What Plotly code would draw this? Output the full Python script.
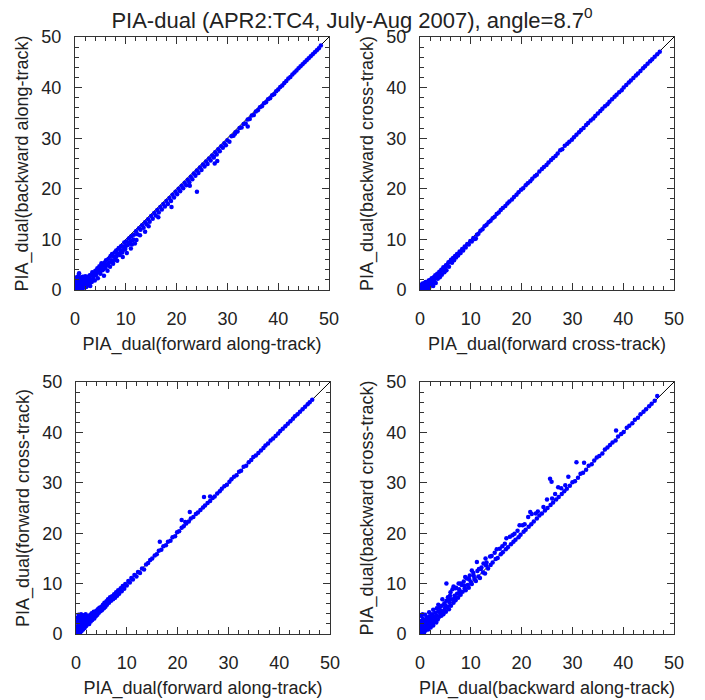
import plotly.graph_objects as go

# ---------------- data ----------------
tick_vals = [0, 10, 20, 30, 40, 50]
tick_text = ["0", "10", "20", "30", "40", "50"]

title_text = "PIA-dual (APR2:TC4, July-Aug 2007), angle=8.7<sup>0</sup>"

x_titles = ["PIA_dual(forward along-track)", "PIA_dual(forward cross-track)",
            "PIA_dual(forward along-track)", "PIA_dual(backward along-track)"]
y_titles = ["PIA_dual(backward along-track)", "PIA_dual(backward cross-track)",
            "PIA_dual(forward cross-track)", "PIA_dual(backward cross-track)"]

# panel A: forward along-track (x) vs backward along-track (y)
panel_a = [(0.1,0.2),(0.1,-0.3),(0.2,0.9),(0.2,1.6),(0.3,0.4),(0.3,2.5),(0.4,-0.2),(0.4,1.2),(0.5,0.6),(0.5,2.0),
 (0.6,0.0),(0.6,1.5),(0.7,0.9),(0.7,2.8),(0.8,0.3),(0.8,3.3),(0.9,1.8),(0.9,-0.1),(1.0,1.1),(1.0,2.4),
 (1.1,0.5),(1.2,1.7),(1.2,0.1),(1.3,2.2),(1.4,0.8),(1.4,1.4),(1.5,2.6),(1.6,0.4),(1.6,1.9),(1.7,1.1),
 (1.8,2.3),(1.9,0.7),(1.9,1.6),(2.0,2.7),(2.1,1.2),(2.2,0.6),(2.2,2.0),(2.3,1.5),(2.4,2.6),(2.5,0.9),
 (2.6,1.9),(2.7,2.5),(2.8,1.3),(2.9,2.9),(3.0,2.1),(3.0,0.8),
 (3.2,2.9),(3.3,1.6),(3.4,3.5),(3.6,2.4),(3.7,3.2),(3.9,1.9),(4.0,3.8),(4.1,2.9),(4.3,3.4),(4.4,4.3),
 (4.5,2.3),(4.7,3.9),(4.8,4.7),(5.0,3.2),(5.1,4.5),(5.2,5.3),(5.4,3.9),(5.5,4.9),(5.7,2.8),(5.8,5.4),
 (6.0,4.4),(6.1,5.9),(6.3,5.1),(6.4,3.8),(6.6,6.2),(6.7,5.4),(6.9,4.6),(7.0,6.7),(7.2,5.9),(7.3,7.1),
 (7.5,5.2),(7.6,6.6),(7.8,7.4),(8.0,6.3),(8.1,7.8),(8.3,5.8),(8.4,7.2),(8.6,8.3),(8.8,6.9),(8.9,7.9),
 (9.1,8.7),(9.3,7.4),(9.4,6.5),(9.6,8.6),(9.7,9.4),(9.9,8.1),(10.1,9.6),(10.2,7.3),(10.4,8.9),(10.6,10.2),
 (10.8,9.3),(11.0,8.2),(11.1,10.6),(11.3,9.8),(11.6,10.9),(11.8,9.2),
 (2.5,1.6),(3.5,2.0),(4.6,3.5),(5.6,4.1),(6.5,5.0),(7.4,5.6),(8.2,6.7),(9.0,7.4),(10.0,8.7),(10.9,9.6),
 (11.5,10.0),(6.2,4.9),(7.9,6.0),(9.5,7.9),(3.8,3.0),(4.9,3.9),
 (12.0,11.6),(12.3,11.0),(12.6,12.2),(12.9,11.9),(13.2,12.8),(13.5,12.3),(13.8,13.4),(14.1,13.0),(14.4,14.0),(14.7,13.5),
 (15.0,14.6),(15.3,14.1),(15.6,15.2),(15.9,14.7),(16.2,15.8),(16.5,15.3),(16.8,16.4),(17.1,15.9),(17.4,17.0),(17.7,16.5),
 (18.0,17.6),(18.3,17.0),(18.6,18.2),(18.9,17.6),(19.2,18.8),(19.5,18.3),(19.8,19.4),(20.1,18.9),(20.4,20.0),(20.7,19.5),
 (21.0,20.6),(21.3,20.1),(21.6,21.2),(21.9,20.7),(22.2,21.8),(22.5,21.3),(22.8,22.4),(23.1,21.9),(23.4,23.0),(23.7,22.6),
 (24.0,23.6),(24.3,23.1),(24.6,24.2),(24.9,23.7),(25.2,24.8),(25.5,24.4),(25.8,25.4),(26.1,24.9),(26.4,26.0),(26.7,25.6),
 (27.0,26.6),(27.3,26.2),(27.6,27.2),(27.9,26.8),(28.2,27.8),(28.5,27.4),(28.8,28.4),(29.1,28.1),(29.4,29.0),(29.7,28.6),
 (30.0,29.6),(30.4,29.3),(30.8,30.4),(31.2,30.5),(31.6,31.2),(32.0,31.3),(32.4,32.0),(32.8,32.1),(33.2,32.8),(33.6,32.9),
 (34.0,33.7),(34.4,33.8),(34.8,34.5),(35.2,34.6),(35.6,35.3),(36.0,35.5),(36.4,36.1),(36.8,36.3),(37.2,36.9),(37.6,37.1),
 (38.0,37.7),(38.4,37.9),(38.8,38.5),(39.2,38.7),(39.6,39.3),(40.0,39.6),(40.4,40.1),(40.8,40.4),(41.2,40.9),(41.6,41.3),
 (42.0,41.8),(42.4,42.1),(42.8,42.6),(43.2,43.0),(43.6,43.4),(44.0,43.8),(44.4,44.2),(44.8,44.6),(45.2,45.0),(45.6,45.4),
 (46.0,45.8),(46.4,46.2),(46.8,46.6),(47.2,47.0),(47.6,47.4),(48.0,47.8),(48.4,48.3),
 (12.1,9.9),(13.8,11.5),(19.0,16.4),(24.0,19.4),(27.3,26.3),(28.0,25.5),(27.5,25.0),(22.6,20.6),(16.4,14.4),(34.0,32.3),
 (31.5,30.9),(12.8,10.8),(14.5,12.6),(11.2,9.0)]

# panel B: forward cross-track (x) vs backward cross-track (y)
panel_b = [(0.1,0.0),(0.1,0.5),(0.2,-0.3),(0.2,1.0),(0.3,0.3),(0.4,0.8),(0.4,-0.1),(0.5,1.3),(0.6,0.4),(0.7,1.0),
 (0.7,-0.2),(0.8,0.6),(0.9,1.4),(1.0,0.2),(1.0,0.9),(1.1,1.6),(1.2,0.5),(1.3,1.1),(1.4,0.0),(1.5,1.5),
 (1.6,0.8),(1.7,1.9),(1.8,0.4),(1.9,1.3),(2.0,2.0),(2.1,0.9),(2.2,1.6),(2.3,2.3),(2.4,1.2),(2.5,2.0),
 (2.6,0.8),(2.7,2.5),(2.8,1.7),(2.9,2.2),(3.0,2.9),(3.1,1.4),(3.2,2.6),(3.4,3.2),(3.5,2.2),(3.6,2.9),
 (3.8,3.6),(3.9,2.5),(4.0,3.4),(4.2,4.0),(4.3,3.0),(4.5,3.9),(4.6,4.5),(4.8,3.5),(4.9,4.4),(5.1,4.9),
 (5.2,3.9),(5.4,5.0),(5.6,5.5),(5.7,4.6),(5.9,5.6),(6.1,6.0),(6.3,5.4),(6.5,6.3),(6.7,5.9),(6.9,6.7),
 (7.1,6.4),(7.3,7.1),(7.5,6.8),(7.8,7.6),(8.0,7.3),(8.3,8.1),(8.5,7.8),(8.8,8.6),(9.0,8.4),(9.3,9.1),
 (9.6,9.0),(9.9,9.7),(10.2,9.6),(10.5,10.3),(10.8,10.1),(11.0,10.2),(11.2,10.9),(11.5,11.1),(11.9,11.7),(12.3,12.0),
 (12.7,12.6),(13.1,12.9),(13.5,13.4),(13.9,13.7),(14.3,14.2),(14.7,14.5),(15.1,15.0),(15.5,15.3),(15.9,15.8),(16.3,16.2),
 (16.8,16.6),(17.2,17.1),(17.6,17.5),(18.1,17.9),(18.5,18.4),(19.0,18.8),(19.4,19.3),(19.9,19.8),(20.3,20.1),(20.8,20.7),
 (21.2,21.1),(21.7,21.5),(22.1,22.0),(22.6,22.5),(23.0,22.8),(23.5,23.4),(24.0,23.9),(24.4,24.3),(24.9,24.7),(25.3,25.2),
 (25.8,25.7),(26.2,26.1),(26.7,26.5),(27.1,27.0),(27.6,27.6),(28.0,27.8),(28.5,28.5),(29.0,28.9),(29.4,29.3),(29.9,29.7),
 (30.3,30.2),(30.8,30.7),(31.3,31.2),(31.7,31.6),(32.2,32.0),(32.7,32.6),(33.1,33.0),(33.6,33.5),(34.1,33.9),(34.5,34.4),
 (35.0,34.9),(35.5,35.4),(35.9,35.8),(36.4,36.3),(36.9,36.7),(37.3,37.2),(37.8,37.7),(38.3,38.2),(38.7,38.6),(39.2,39.1),
 (39.7,39.5),(40.1,40.0),(40.6,40.5),(41.1,41.0),(41.5,41.4),(42.0,41.9),(42.5,42.4),(42.9,42.8),(43.4,43.3),(43.9,43.8),
 (44.3,44.2),(44.8,44.7),(45.3,45.2),(45.7,45.6),(46.2,46.1),(46.7,46.6),(47.2,47.1)]

# panel C: forward along-track (x) vs forward cross-track (y)
panel_c = [(0.1,0.2),(0.1,1.5),(0.2,-0.2),(0.2,2.4),(0.3,0.7),(0.3,3.2),(0.4,1.1),(0.4,-0.1),(0.5,1.9),(0.5,3.8),
 (0.6,0.5),(0.6,2.7),(0.7,1.4),(0.7,3.4),(0.8,0.2),(0.8,2.2),(0.9,1.0),(0.9,3.0),(1.0,1.7),(1.0,3.9),
 (1.1,0.6),(1.1,2.6),(1.2,1.3),(1.2,3.5),(1.3,2.0),(1.4,0.9),(1.4,2.9),(1.5,1.6),(1.5,3.7),(1.6,2.3),
 (1.7,1.2),(1.7,3.2),(1.8,2.0),(1.9,2.8),(1.9,3.9),(2.0,1.6),(2.1,2.5),(2.1,3.6),(2.2,1.9),(2.3,3.0),
 (2.4,2.3),(2.5,3.4),(2.6,2.0),(2.7,2.9),(2.8,3.8),(2.9,2.5),(3.0,3.3),(3.1,4.1),(3.2,2.8),(3.3,3.6),
 (3.5,4.4),(3.6,3.1),(3.7,4.0),(3.9,3.5),(4.0,4.6),(4.2,3.8),(4.3,4.9),(4.5,4.2),(4.6,5.2),(4.8,4.5),
 (5.0,5.4),(5.1,4.7),(5.3,5.8),(5.5,5.1),(5.6,6.2),(5.8,5.4),(6.0,6.5),(6.1,5.8),(6.3,6.9),(6.5,6.2),
 (6.7,7.3),(6.9,6.6),(7.1,7.5),(7.3,6.9),(7.5,7.9),(7.7,7.2),(7.9,8.3),(8.1,7.6),(8.3,8.7),(8.5,8.0),
 (8.8,9.1),(9.0,8.5),(9.2,9.5),(9.5,9.0),(9.7,9.9),(10.0,9.6),(10.3,10.5),(10.6,10.2),(10.9,11.1),(11.2,10.8),
 (11.5,11.7),(11.9,11.4),(12.2,12.3),(12.6,12.1),(13.0,13.0),(13.4,12.8),(13.8,13.8),(14.2,14.1),(14.6,14.7),(15.0,15.0),
 (15.5,15.6),(15.9,15.8),(16.3,16.5),(16.5,18.3),(16.8,16.7),(17.2,17.4),(17.7,17.6),(18.1,18.3),(18.6,18.5),(19.0,19.2),
 (19.5,19.4),(19.9,20.2),(20.3,20.4),(20.8,22.6),(20.8,21.1),(21.2,21.4),(21.5,22.2),(21.7,21.9),(22.2,22.3),(22.4,24.2),
 (22.6,22.9),(23.1,23.2),(23.6,23.8),(24.0,24.1),(24.5,24.6),(25.0,25.1),(25.2,27.2),(25.4,25.5),(25.9,26.0),(26.4,27.3),
 (26.4,26.4),(26.9,27.0),(27.3,27.3),(27.8,27.9),(28.3,28.3),(28.7,28.8),(29.2,29.3),(29.7,29.6),(30.2,30.2),(30.6,30.7),
 (31.1,31.2),(31.6,31.5),(32.1,32.2),(32.5,32.4),(33.0,33.2),(33.5,33.4),(34.0,34.1),(34.5,34.5),(34.9,35.1),(35.4,35.4),
 (35.9,35.9),(36.4,36.4),(36.9,36.9),(37.3,37.4),(37.8,37.8),(38.3,38.4),(38.8,38.8),(39.3,39.3),(39.8,39.8),(40.2,40.3),
 (40.7,40.7),(41.2,41.2),(41.7,41.7),(42.2,42.2),(42.7,42.7),(43.1,43.2),(43.6,43.6),(44.1,44.1),(44.6,44.6),(45.1,45.1),
 (45.6,45.6),(46.0,46.0),(46.5,46.5)]

# panel D: backward along-track (x) vs backward cross-track (y)
panel_d = [(0.1,0.3),(0.1,1.8),(0.2,-0.2),(0.2,2.6),(0.3,0.9),(0.3,3.6),(0.4,1.4),(0.4,0.0),(0.5,2.2),(0.6,0.6),
 (0.6,3.0),(0.7,1.6),(0.8,0.3),(0.8,2.5),(0.9,1.1),(1.0,3.8),(1.0,1.9),(1.1,0.7),(1.2,2.8),(1.3,1.4),
 (1.4,3.3),(1.5,2.1),(1.6,0.9),(1.7,2.7),(1.8,1.6),(1.9,3.5),(2.0,2.3),(2.1,1.3),(2.2,3.0),(2.3,2.0),
 (2.4,3.9),(2.5,2.6),(2.6,1.7),(2.7,3.4),(2.8,2.4),(3.0,4.2),(3.0,3.0),(3.2,2.3),(3.3,5.1),(3.3,3.7),
 (3.5,2.9),(3.6,4.5),(3.8,3.4),(3.9,5.3),(4.0,4.1),(4.2,3.6),(4.3,5.6),(4.5,4.5),(4.6,3.9),(4.8,6.1),
 (4.9,5.0),(5.1,4.4),(5.2,10.0),(5.2,6.6),(5.4,5.4),(5.5,7.3),(5.7,4.9),(5.8,6.2),(6.0,8.3),(6.1,5.6),
 (6.3,6.9),(6.4,8.9),(6.6,9.4),(6.6,6.2),(6.8,7.6),(7.0,6.7),(7.1,9.2),(7.3,8.0),(7.5,7.2),(7.6,10.0),
 (7.8,8.5),(8.0,7.8),(8.2,9.7),(8.4,8.4),(8.6,10.4),(8.8,9.1),(9.0,8.7),(9.2,11.0),(9.4,9.7),(9.6,9.2),
 (9.8,11.6),(10.0,10.3),(10.2,9.9),(10.5,12.1),(10.7,10.9),(11.0,10.5),(11.2,14.3),(11.3,12.5),(11.5,11.4),(11.8,11.1),
 (12.1,13.2),(12.5,14.0),(12.4,12.2),(12.8,12.0),(13.1,14.2),(13.4,13.0),(13.8,15.4),(13.9,13.7),(14.3,14.2),(14.7,16.1),
 (14.9,14.9),(15.3,15.1),(15.7,16.9),(15.9,15.8),(16.3,16.2),(16.7,17.9),(16.9,16.8),(17.3,17.2),(17.7,19.3),(17.9,17.8),
 (18.2,19.6),(18.4,18.3),(18.8,18.7),(19.2,20.5),(19.4,19.2),(19.8,19.7),(20.2,21.6),(20.4,20.3),(20.8,20.7),(21.3,23.2),
 (21.7,24.2),(21.4,21.3),(21.9,21.8),(22.4,22.3),(22.8,23.9),(23.0,22.9),(23.5,23.5),(24.0,23.9),(24.3,25.2),(24.6,24.5),
 (25.1,25.0),(25.6,30.8),(25.9,30.2),(25.7,25.6),(26.2,26.1),(26.6,27.8),(26.8,26.7),(27.3,27.2),(27.8,28.9),(27.9,27.8),
 (28.4,28.3),(28.9,28.8),(29.2,31.2),(29.5,29.4),(30.0,30.1),(30.5,30.3),(30.8,34.1),(31.1,31.0),(31.6,31.8),(32.1,32.0),
 (32.3,34.0),(32.7,32.6),(33.2,33.4),(33.8,33.7),(34.3,34.4),(34.8,35.0),(35.3,35.3),(35.9,35.8),(36.4,36.6),(36.9,37.0),
 (37.4,37.5),(37.9,38.0),(38.6,40.4),(38.5,38.4),(39.0,39.2),(39.6,39.7),(40.1,40.1),(40.7,40.9),(41.2,41.3),(41.8,41.8),
 (42.3,42.5),(42.9,42.9),(43.4,43.6),(44.0,44.1),(44.5,44.6),(45.1,45.2),(45.6,45.7),(46.2,46.3),(46.7,47.2),
 (3.6,5.8),(4.4,6.9),(5.9,7.6),(7.0,9.1),(8.0,10.0),(8.9,11.3),(9.6,11.0),(10.2,12.6),(11.6,12.9),(12.9,15.0),
 (14.1,15.5),(15.1,16.8),(16.2,17.4),(17.0,19.0),(18.6,19.9),(19.6,21.6),(20.6,21.8),(22.0,23.8),(23.2,24.3),(25.0,26.7),
 (26.0,26.9),(27.2,29.1),(28.6,29.5),(1.8,4.3),(2.6,4.8),(0.5,3.9),
 (3.1,3.4),(4.1,4.6),(5.0,5.6),(5.9,6.8),(6.9,7.2),(7.7,8.9),(8.7,9.6),(9.7,10.8),(10.6,11.5),(2.0,3.2),
 (1.5,2.9),(12.0,12.9),(13.0,13.6)]

one_to_one = [0, 50]

# ---------------- figure ----------------
# the page body adds an 8 px margin, so the figure is laid out 8 px smaller
W, H = 697, 692
OFF = 8
# plot boxes in window pixels: (left, right, top, bottom)
boxes = [(75, 329, 37, 290), (420, 674, 37, 290), (76, 330, 382, 634), (420, 674, 382, 634)]
panels = [panel_a, panel_b, panel_c, panel_d]

FONT = "Liberation Sans, Arial, Helvetica, sans-serif"
AXC = "#333333"
TXT = "#222222"

fig = go.Figure()
layout = dict(
    width=W, height=H,
    margin=dict(l=0, r=0, t=0, b=0),
    paper_bgcolor="white", plot_bgcolor="white",
    showlegend=False,
    font=dict(family=FONT, color=TXT),
    title=dict(text=title_text, x=(352 - OFF) / W, xanchor="center", y=1 - (20 - OFF) / H,
               yanchor="middle", yref="container",
               font=dict(size=22, family=FONT, color=TXT)),
)

for i, (pts, box) in enumerate(zip(panels, boxes)):
    n = "" if i == 0 else str(i + 1)
    xa, ya = "x" + n, "y" + n
    l, r, t, b = [v - OFF for v in box]
    xs = [p[0] for p in pts]
    ys = [p[1] for p in pts]
    fig.add_trace(go.Scatter(x=one_to_one, y=one_to_one, mode="lines",
                             line=dict(color="black", width=1), xaxis=xa, yaxis=ya,
                             hoverinfo="skip"))
    fig.add_trace(go.Scatter(x=xs, y=ys, mode="markers",
                             marker=dict(color="#0000ff", size=4.5, line=dict(width=0)),
                             xaxis=xa, yaxis=ya, cliponaxis=True))
    common = dict(range=[0, 50], tickvals=tick_vals, ticktext=tick_text,
                  ticks="inside", ticklen=7, tickwidth=1, tickcolor=AXC,
                  minor=dict(dtick=2, ticks="inside", ticklen=4, tickcolor=AXC, tickwidth=1),
                  showline=True, linecolor=AXC, linewidth=1, mirror="allticks",
                  showgrid=False, zeroline=False, automargin=False,
                  tickfont=dict(size=18, family=FONT, color=TXT))
    layout["xaxis" + n] = dict(common, domain=[l / W, r / W], anchor=ya,
                               ticklabelstandoff=12,
                               title=dict(text=x_titles[i], standoff=9,
                                          font=dict(size=18, family=FONT, color=TXT)))
    layout["yaxis" + n] = dict(common, domain=[1 - b / H, 1 - t / H], anchor=xa,
                               ticklabelstandoff=9,
                               title=dict(text=y_titles[i], standoff=8,
                                          font=dict(size=18, family=FONT, color=TXT)))

fig.update_layout(**layout)
fig.write_html("out.html")
